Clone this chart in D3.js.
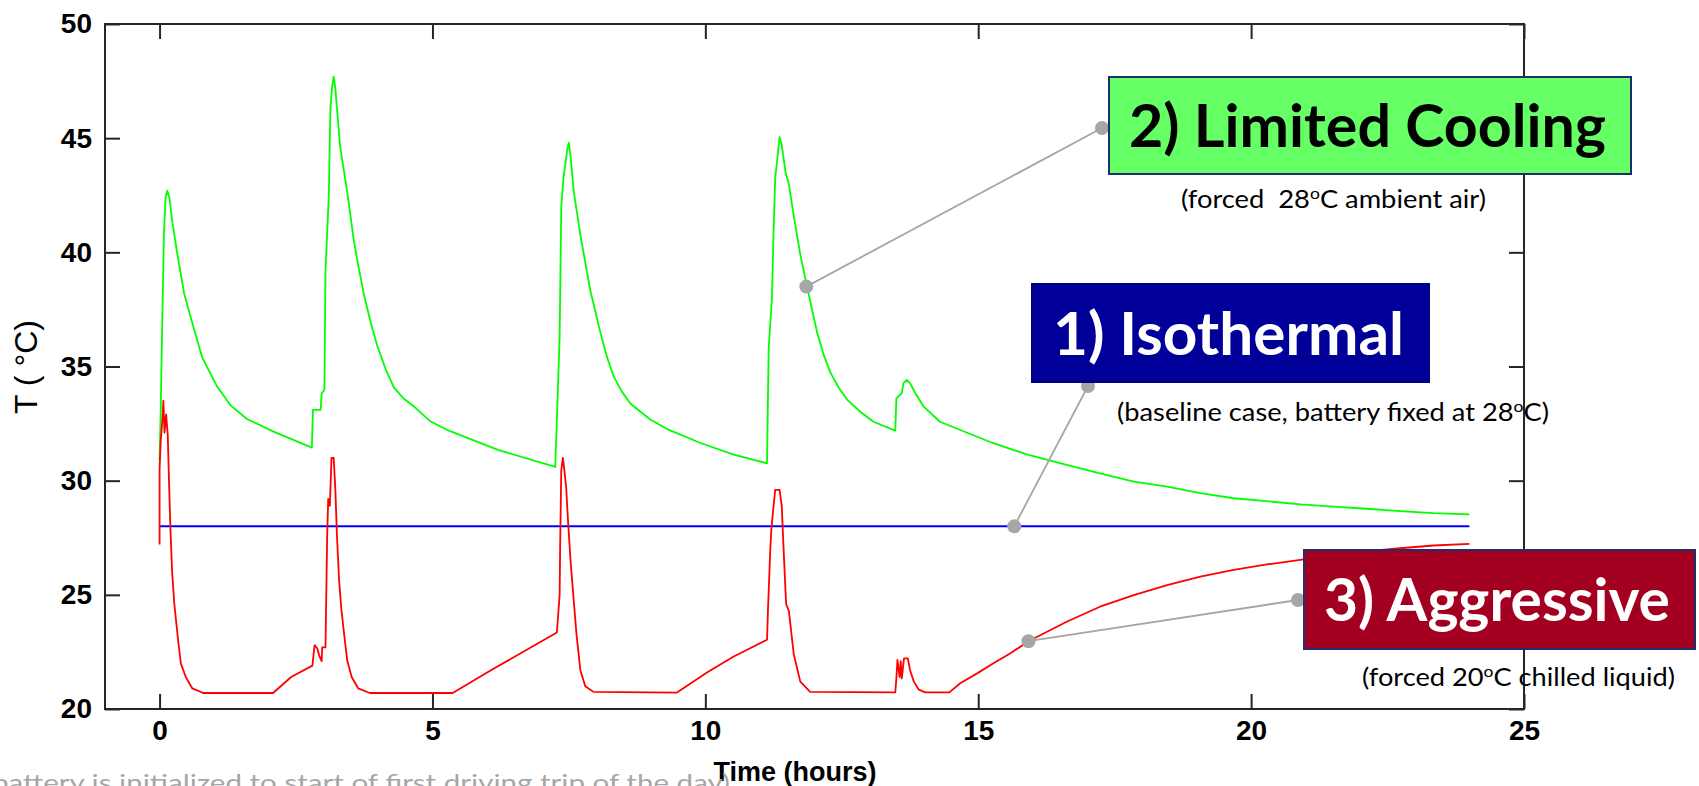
<!DOCTYPE html>
<html>
<head>
<meta charset="utf-8">
<script src="https://cdn.jsdelivr.net/npm/d3@7"></script>
<style>
  html, body { margin: 0; padding: 0; background: #fff; overflow: hidden; }
  svg { display: block; }
</style>
</head>
<body>
<svg id="chart" width="1699" height="786"></svg>
<script>
// ticks
const xTicks = [0, 5, 10, 15, 20, 25];
const yTicks = [20, 25, 30, 35, 40, 45, 50];

// [time (hours), temperature (C)]
const isothermal = [[0, 28], [24, 28]];

const limitedCooling = [
  [0, 30.9], [0.02, 33.0], [0.05, 37.1], [0.08, 40.8], [0.11, 42.4], [0.14, 42.7], [0.18, 42.4],
  [0.23, 41.4], [0.32, 40.0], [0.45, 38.2], [0.6, 36.9], [0.78, 35.4], [1.06, 34.1], [1.3, 33.3],
  [1.6, 32.7], [2.09, 32.15], [2.79, 31.45], [2.81, 33.1], [2.95, 33.1], [2.97, 33.8], [3.02, 34.0],
  [3.04, 39.2], [3.1, 42.45], [3.13, 46.3], [3.16, 47.2], [3.19, 47.7], [3.22, 47.2], [3.25, 46.3],
  [3.31, 44.6], [3.44, 42.6], [3.56, 40.5], [3.65, 39.3], [3.74, 38.2], [3.86, 37.0], [3.99, 35.9],
  [4.14, 34.9], [4.29, 34.1], [4.47, 33.6], [4.66, 33.25], [4.96, 32.6], [5.29, 32.2], [6.2, 31.35],
  [7.25, 30.6], [7.28, 32.7], [7.33, 36.3], [7.36, 42.0],
  [7.4, 43.25], [7.47, 44.5], [7.5, 44.8], [7.53, 44.2], [7.59, 42.65], [7.71, 40.76], [7.89, 38.35],
  [8.08, 36.46], [8.2, 35.4], [8.32, 34.57], [8.47, 33.9], [8.63, 33.37], [8.99, 32.68], [9.3, 32.26],
  [9.91, 31.65], [10.52, 31.14], [11.13, 30.76], [11.16, 35.78], [11.22, 38.0], [11.25, 40.93],
  [11.28, 43.25], [11.31, 43.9], [11.36, 45.05], [11.4, 44.7], [11.47, 43.5], [11.53, 43.0],
  [11.62, 41.6], [11.74, 39.9], [11.86, 38.53], [12.05, 36.47], [12.17, 35.5], [12.29, 34.74],
  [12.45, 34.05], [12.6, 33.54], [12.84, 33.02],
  [13.08, 32.58], [13.48, 32.19], [13.5, 33.6], [13.6, 33.83], [13.63, 34.27], [13.69, 34.41],
  [13.75, 34.27], [13.85, 33.83], [14.0, 33.24], [14.3, 32.58], [14.67, 32.22], [15.28, 31.64],
  [15.89, 31.15], [16.62, 30.69], [17.23, 30.32], [17.85, 29.96], [18.46, 29.74], [19.07, 29.45],
  [19.68, 29.23], [20.29, 29.1], [20.9, 28.96], [21.51, 28.86], [22.12, 28.77], [22.73, 28.67],
  [23.34, 28.58], [24.0, 28.52]
];

const aggressive = [
  [0, 27.2], [0, 30.5], [0.02, 31.7], [0.05, 32.6], [0.07, 33.5], [0.09, 32.1], [0.12, 32.9],
  [0.15, 32.0], [0.17, 30.2], [0.2, 27.8], [0.23, 26.0], [0.27, 24.6], [0.34, 23.0], [0.39, 22.0],
  [0.48, 21.4], [0.6, 20.9], [0.8, 20.7], [2.08, 20.7], [2.41, 21.4], [2.8, 21.9], [2.84, 22.8],
  [2.89, 22.65], [2.93, 22.3], [2.97, 22.1], [2.98, 22.7], [3.04, 22.7], [3.07, 27.5], [3.09, 29.2],
  [3.12, 28.9], [3.15, 31.0], [3.19, 31.0], [3.22, 29.65], [3.25, 27.6], [3.29, 25.6], [3.33, 24.4],
  [3.38, 23.3], [3.44, 22.1], [3.52, 21.4], [3.64, 20.9], [3.85, 20.7], [5.37, 20.7], [6.11, 21.75],
  [7.28, 23.35], [7.33, 25.0], [7.34, 27.2], [7.36, 30.45], [7.39, 31.0], [7.42, 30.4], [7.45, 29.7],
  [7.48, 28.4], [7.53, 26.5], [7.58, 25.0], [7.64, 23.25], [7.71, 21.7], [7.8, 21.0], [7.95, 20.75],
  [9.48, 20.72], [10.03, 21.6], [10.52, 22.3], [11.13, 23.03], [11.15, 24.5], [11.19, 27.0],
  [11.21, 27.9], [11.25, 28.9], [11.28, 29.6], [11.36, 29.6], [11.4, 28.9], [11.43, 27.2],
  [11.48, 24.6], [11.53, 24.3], [11.62, 22.4], [11.74, 21.2], [11.92, 20.75], [13.48, 20.73],
  [13.5, 21.34], [13.52, 22.15], [13.56, 21.4], [13.58, 22.1], [13.6, 21.34], [13.64, 22.22],
  [13.71, 22.22], [13.75, 21.71], [13.82, 21.2], [13.91, 20.85], [14.03, 20.73], [14.47, 20.73],
  [14.67, 21.13], [14.98, 21.56], [15.28, 22.0], [15.59, 22.44], [15.92, 22.97], [16.62, 23.82],
  [17.23, 24.48], [17.85, 24.99], [18.46, 25.43], [19.07, 25.8], [19.68, 26.09], [20.29, 26.33],
  [20.9, 26.53], [21.5, 26.72], [22.1, 26.9], [22.73, 27.04], [23.34, 27.16], [24.0, 27.23]
];

const caseLabels = ["1) Isothermal", "2) Limited Cooling", "3) Aggressive"];
// note text split around the superscript "o"
const caseNotes = [
  ["(baseline case, battery fixed at 28", "o", "C)"],
  ["(forced  28", "o", "C ambient air)"],
  ["(forced 20", "o", "C chilled liquid)"]
];
// point on each curve the callout points at
const calloutPoints = [[15.66, 28], [11.85, 38.5], [15.92, 22.97]];
const footNote = "battery is initialized to start of first driving trip of the day)";

const svg = d3.select("#chart");
const plotLeft = 105, plotRight = 1524, plotTop = 24, plotBottom = 709;

const x = d3.scaleLinear().domain([-1, 25]).range([plotLeft, plotRight]);
const y = d3.scaleLinear().domain([20, 50]).range([plotBottom, plotTop]);

const axisColor = "#262626";
const tickFont = "'Liberation Sans', Arial, sans-serif";

function styleAxis(g, showLabels) {
  g.select(".domain").remove();
  g.selectAll(".tick line").attr("stroke", axisColor).attr("stroke-width", 2);
  if (showLabels) {
    g.selectAll(".tick text")
      .attr("fill", "#000")
      .style("font-family", tickFont)
      .style("font-size", "28px")
      .style("font-weight", "bold");
  } else {
    g.selectAll(".tick text").remove();
  }
}

svg.append("g").attr("transform", `translate(0,${plotBottom})`)
  .call(d3.axisBottom(x).tickValues(xTicks).tickSizeInner(-15).tickSizeOuter(0).tickPadding(11))
  .call(g => styleAxis(g, true));
svg.append("g").attr("transform", `translate(0,${plotTop})`)
  .call(d3.axisTop(x).tickValues(xTicks).tickSizeInner(-15).tickSizeOuter(0))
  .call(g => styleAxis(g, false));
svg.append("g").attr("transform", `translate(${plotLeft},0)`)
  .call(d3.axisLeft(y).tickValues(yTicks).tickSizeInner(-15).tickSizeOuter(0).tickPadding(13))
  .call(g => styleAxis(g, true));
svg.append("g").attr("transform", `translate(${plotRight},0)`)
  .call(d3.axisRight(y).tickValues(yTicks).tickSizeInner(-15).tickSizeOuter(0))
  .call(g => styleAxis(g, false));

svg.append("rect")
  .attr("x", plotLeft).attr("y", plotTop)
  .attr("width", plotRight - plotLeft).attr("height", plotBottom - plotTop)
  .attr("fill", "none").attr("stroke", axisColor).attr("stroke-width", 2);

// axis titles
svg.append("text")
  .attr("x", 795).attr("y", 781)
  .attr("text-anchor", "middle")
  .style("font-family", tickFont).style("font-size", "27px").style("font-weight", "bold")
  .text("Time (hours)");

svg.append("text")
  .attr("transform", "translate(37,367) rotate(-90)")
  .attr("text-anchor", "middle")
  .style("font-family", tickFont).style("font-size", "32px")
  .text("T ( °C)");

// curves
const line = d3.line().x(d => x(d[0])).y(d => y(d[1]));
const series = [
  { data: limitedCooling, color: "#00ff00", w: 1.8 },
  { data: isothermal, color: "#0000ff", w: 2 },
  { data: aggressive, color: "#ff0000", w: 1.8 }
];
svg.selectAll("path.curve")
  .data(series)
  .enter()
  .append("path")
  .attr("class", "curve")
  .attr("d", d => line(d.data))
  .attr("fill", "none")
  .attr("stroke", d => d.color)
  .attr("stroke-width", d => d.w)
  .attr("stroke-linejoin", "round");

// callouts (same order as caseLabels)
const boxes = [
  { x: 1032, y: 284, w: 397, h: 98, fill: "#000099", stroke: "#000080", text: "#fff",
    tx: 1053, ty: 355, tw: 351, anchor: [1088, 386], nx: 1117, ny: 421, nw: 432 },
  { x: 1109, y: 77, w: 522, h: 97, fill: "#66ff66", stroke: "#1f2f6b", text: "#000",
    tx: 1129, ty: 147, tw: 477, anchor: [1102, 128], nx: 1181, ny: 208, nw: 305 },
  { x: 1304, y: 550, w: 391, h: 99, fill: "#a30021", stroke: "#1f2f6b", text: "#fff",
    tx: 1324, ty: 621, tw: 346, anchor: [1298, 600], nx: 1362, ny: 686, nw: 313 }
];

const callouts = svg.append("g");
boxes.forEach((b, i) => {
  const p = calloutPoints[i];
  callouts.append("line")
    .attr("x1", x(p[0])).attr("y1", y(p[1]))
    .attr("x2", b.anchor[0]).attr("y2", b.anchor[1])
    .attr("stroke", "#a6a6a6").attr("stroke-width", 1.8);
  callouts.append("circle").attr("cx", x(p[0])).attr("cy", y(p[1])).attr("r", 7).attr("fill", "#a6a6a6");
  callouts.append("circle").attr("cx", b.anchor[0]).attr("cy", b.anchor[1]).attr("r", 7).attr("fill", "#a6a6a6");
});

const labelFont = "Lato, 'Open Sans', sans-serif";
boxes.forEach((b, i) => {
  svg.append("rect")
    .attr("x", b.x).attr("y", b.y).attr("width", b.w).attr("height", b.h)
    .attr("fill", b.fill).attr("stroke", b.stroke).attr("stroke-width", 2);
  svg.append("text")
    .attr("x", b.tx).attr("y", b.ty)
    .attr("textLength", b.tw).attr("lengthAdjust", "spacingAndGlyphs")
    .attr("fill", b.text)
    .style("font-family", labelFont).style("font-size", "59px").style("font-weight", "bold")
    .text(caseLabels[i]);

  const note = svg.append("text")
    .attr("x", b.nx).attr("y", b.ny)
    .attr("textLength", b.nw).attr("lengthAdjust", "spacingAndGlyphs")
    .attr("fill", "#000")
    .style("white-space", "pre")
    .style("font-family", labelFont).style("font-size", "25px");
  const parts = caseNotes[i];
  note.append("tspan").text(parts[0]);
  note.append("tspan").attr("dy", -9).style("font-size", "16px").text(parts[1]);
  note.append("tspan").attr("dy", 9).text(parts[2]);
});

// footnote, cut by the bottom edge as in the slide
svg.append("text")
  .attr("x", -8).attr("y", 791)
  .attr("textLength", 738).attr("lengthAdjust", "spacingAndGlyphs")
  .attr("fill", "#a6a6a6")
  .style("font-family", labelFont).style("font-size", "24px")
  .text(footNote);
</script>
</body>
</html>
